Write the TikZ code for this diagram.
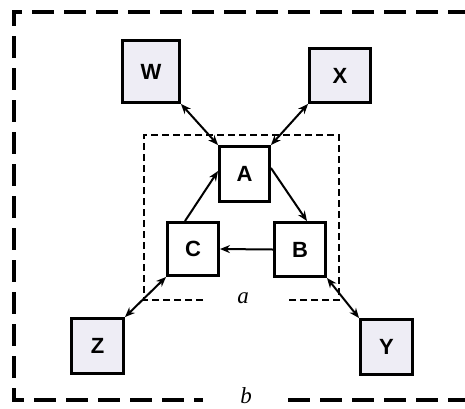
\documentclass[tikz,border=0pt]{standalone}
\usepackage{fontspec}
\setmainfont{Liberation Sans}
\newfontfamily\labelserif{Liberation Serif}
\usetikzlibrary{arrows.meta}
\definecolor{outerfill}{HTML}{EEEDF5}
\tikzset{
  boxbase/.style={draw=black, line width=3.4pt, inner sep=0pt, font=\fontsize{22}{22}\selectfont\bfseries},
  innerbox/.style={boxbase, fill=white},
  outerbox/.style={boxbase, fill=outerfill},
  link/.style={line width=2pt, -{Stealth[length=10pt,width=8pt]}},
  duallink/.style={line width=2pt, {Stealth[length=10pt,width=8pt]}-{Stealth[length=10pt,width=8pt]}},
  bigframe/.style={line width=3.6pt, dash pattern=on 22pt off 10pt},
  smallframe/.style={line width=1.5pt, dash pattern=on 7pt off 4pt},
  setlabel/.style={font=\labelserif\itshape\fontsize{23}{23}\selectfont}
}
\begin{document}
\begin{tikzpicture}[x=1pt,y=-1pt]
\useasboundingbox (0,0) rectangle (465,408);
\fill[white] (0,0) rectangle (465,408);

% outer frame b
\draw[bigframe] (470,12) -- (14,12) -- (14,400) -- (203,400);
\draw[bigframe] (288,400) -- (470,400);
\node[setlabel] (lb) at (246,396) {b};

% inner frame a
\draw[smallframe] (203,300) -- (144,300) -- (144,135) -- (339,135) -- (339,300) -- (288,300);
\node[setlabel] (la) at (243,298) {a};

% core boxes
\node[innerbox, minimum width=49.5pt, minimum height=54.5pt] (A) at (244.5,174) {A};
\node[innerbox, minimum width=50.5pt, minimum height=52.5pt] (C) at (193,249) {C};
\node[innerbox, minimum width=50.5pt, minimum height=53.5pt] (B) at (300,249.5) {B};

% surrounding boxes
\node[outerbox, minimum width=56.5pt, minimum height=61.5pt] (W) at (151,71.5) {W};
\node[outerbox, minimum width=60.5pt, minimum height=53.5pt] (X) at (340,75.5) {X};
\node[outerbox, minimum width=51.5pt, minimum height=54.5pt] (Z) at (97.5,346) {Z};
\node[outerbox, minimum width=51.5pt, minimum height=54.5pt] (Y) at (386.5,347) {Y};

% cycle inside a
\draw[link] ([xshift=-8pt]C.north) -- ([yshift=3pt]A.west);
\draw[link] ([yshift=6pt]A.east) -- ([xshift=7pt]B.north);
\draw[link] (B.west) -- (C.east);

% exchanges with the surroundings
\draw[duallink] (A.north west) -- (W.south east);
\draw[duallink] (A.north east) -- (X.south west);
\draw[duallink] (C.south west) -- (Z.north east);
\draw[duallink] (B.south east) -- (Y.north west);
\end{tikzpicture}
\end{document}
